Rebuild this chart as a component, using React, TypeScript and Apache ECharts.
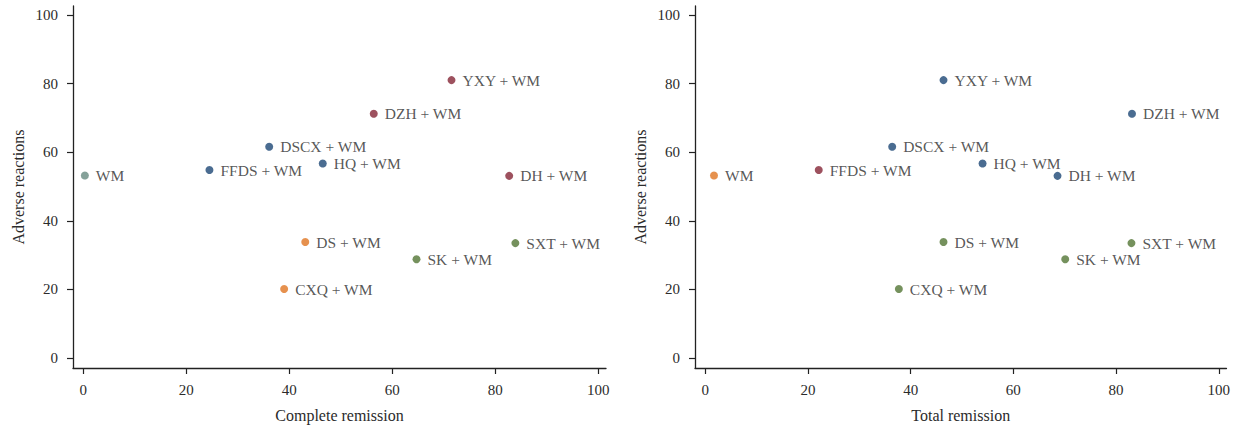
import React, { useEffect, useRef } from "react";
import * as echarts from "echarts";

const treatments = ["WM", "FFDS + WM", "DSCX + WM", "HQ + WM", "DZH + WM", "YXY + WM", "DH + WM", "DS + WM", "CXQ + WM", "SK + WM", "SXT + WM"];
const completeRemission = [0.3, 24.5, 36.1, 46.5, 56.4, 71.5, 82.7, 43.1, 39.0, 64.7, 83.9];
const totalRemission = [1.7, 22.1, 36.4, 54.0, 83.1, 46.4, 68.6, 46.4, 37.7, 70.1, 83.0];
const adverseReactions = [53.2, 54.8, 61.6, 56.7, 71.2, 81.0, 53.1, 33.8, 20.1, 28.8, 33.5];
const leftGroups = ["gray", "blue", "blue", "blue", "red", "red", "red", "orange", "orange", "green", "green"];
const rightGroups = ["orange", "red", "blue", "blue", "blue", "blue", "blue", "green", "green", "green", "green"];
const tickValues = [0, 20, 40, 60, 80, 100];

const palette: Record<string, string> = {
  gray: "#668a80",
  blue: "#1d4775",
  red: "#852636",
  orange: "#e07522",
  green: "#537634",
};

const FONT = "'Liberation Serif', 'DejaVu Serif', serif";
const TEXT = "#2b2b2b";
const AXIS = "#222222";

function makeAxis(name: string, isX: boolean, gridIndex: number) {
  return {
    type: "value",
    gridIndex,
    min: isX ? -2 : -2.9,
    max: isX ? 101.5 : 102.6,
    name,
    nameLocation: "middle",
    nameGap: isX ? 39 : 47,
    nameTextStyle: { fontFamily: FONT, fontSize: 16, color: TEXT },
    splitLine: { show: false },
    axisLine: { show: true, onZero: false, lineStyle: { color: AXIS, width: 1.3 } },
    axisTick: { show: true, length: 6, customValues: tickValues, lineStyle: { color: AXIS, width: 1.2 } },
    axisLabel: { customValues: tickValues, fontFamily: FONT, fontSize: 15, color: TEXT, margin: isX ? 14 : 15 },
  };
}

function makeSeries(xs: number[], groups: string[], idx: number) {
  return {
    type: "scatter",
    xAxisIndex: idx,
    yAxisIndex: idx,
    symbol: "circle",
    symbolSize: 8,
    data: treatments.map((n, i) => ({
      value: [xs[i], adverseReactions[i]],
      name: n,
      itemStyle: { color: palette[groups[i]] },
    })),
    label: {
      show: true,
      position: "right",
      distance: 7,
      formatter: (p: any) => p.name,
      fontFamily: FONT,
      fontSize: 15.5,
      color: TEXT,
    },
  };
}

export default function App() {
  const ref = useRef<HTMLDivElement>(null);
  useEffect(() => {
    if (!ref.current) return;
    const chart = echarts.init(ref.current, null, { renderer: "svg" });
    chart.setOption({
      animation: false,
      backgroundColor: "#ffffff",
      grid: [
        { left: 73, top: 6, width: 533, height: 365 },
        { left: 695, top: 6, width: 532, height: 365 },
      ],
      xAxis: [makeAxis("Complete remission", true, 0), makeAxis("Total remission", true, 1)],
      yAxis: [makeAxis("Adverse reactions", false, 0), makeAxis("Adverse reactions", false, 1)],
      series: [makeSeries(completeRemission, leftGroups, 0), makeSeries(totalRemission, rightGroups, 1)],
    });
    return () => chart.dispose();
  }, []);
  return (
    <div
      ref={ref}
      style={{ position: "fixed", left: 0, top: 0, width: 1233, height: 428, background: "#fff" }}
    />
  );
}
